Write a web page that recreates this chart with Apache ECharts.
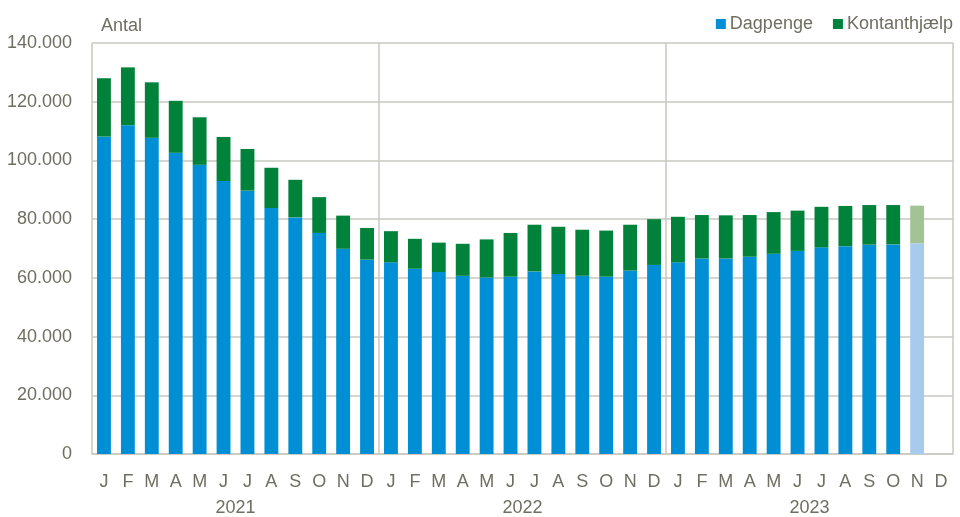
<!DOCTYPE html>
<html><head><meta charset="utf-8">
<script src="https://cdn.jsdelivr.net/npm/echarts@6/dist/echarts.min.js"></script>
<style>html,body{margin:0;padding:0;background:#fff}#c{width:960px;height:517px}</style>
</head><body><div id="c"></div>
<script>
var months = ['J','F','M','A','M','J','J','A','S','O','N','D','J','F','M','A','M','J','J','A','S','O','N','D','J','F','M','A','M','J','J','A','S','O','N','D'];
var years = ['2021','2022','2023'];
var dagpenge = [108100,112000,107700,102600,98500,93000,89700,83800,80600,75300,69900,66200,
  65300,63100,62000,60700,60100,60400,62200,61300,60700,60400,62500,64400,
  65300,66600,66600,67200,68200,69200,70400,70800,71300,71400,71800,null];
var kontanthjaelp = [19900,19700,18900,17700,16200,15000,14200,13700,12800,12200,11300,10800,
  10600,10200,10000,10900,13000,14900,15900,16100,15700,15700,15600,15600,
  15500,14800,14700,14200,14200,13700,13800,13700,13500,13400,12800,null];
var provisional = [34];

var FONT = "'Liberation Sans',Arial,sans-serif";
var FS = 18;
var TXT = '#6f6e62';
var GRIDC = '#c9c9c1';
function mk(arr, light){
  return arr.map(function(v,i){
    if (provisional.indexOf(i) >= 0) return {value:v, itemStyle:{color:light}};
    return v;
  });
}
var chart = echarts.init(document.getElementById('c'), null, {renderer:'canvas'});
chart.setOption({
  animation:false,
  textStyle:{fontFamily:FONT},
  title:{text:'Antal', left:96, top:12, textStyle:{fontFamily:FONT, fontSize:FS, fontWeight:'normal', color:TXT}},
  legend:{right:2, top:10, itemWidth:10, itemHeight:10, itemGap:20, icon:'rect',
    textStyle:{fontFamily:FONT, fontSize:FS, color:TXT, padding:[0,0,0,-1]},
    data:['Dagpenge','Kontanthjælp']},
  grid:{left:92, right:7, top:43, bottom:62},
  xAxis:[
    {type:'category', data:months, position:'bottom', boundaryGap:true,
     axisLine:{show:true, lineStyle:{color:GRIDC, width:1.5}}, axisTick:{show:false},
     axisLabel:{interval:0, margin:19, fontFamily:FONT, fontSize:FS, color:TXT},
     splitLine:{show:false}},
    {type:'category', data:years, position:'bottom', boundaryGap:true,
     axisLine:{show:false}, axisTick:{show:false},
     axisLabel:{interval:0, margin:45, fontFamily:FONT, fontSize:FS, color:TXT},
     splitLine:{show:true, interval:0, lineStyle:{color:GRIDC, width:1.5}}}
  ],
  yAxis:{type:'value', min:0, max:140000, interval:20000,
    axisLine:{show:false}, axisTick:{show:false},
    axisLabel:{margin:20, fontFamily:FONT, fontSize:FS, color:TXT,
      formatter:function(v){return v===0?'0':(v/1000)+'.000';}},
    splitLine:{lineStyle:{color:GRIDC, width:1.5}}},
  series:[
    {name:'Dagpenge', type:'bar', stack:'a', xAxisIndex:0, barWidth:'58%',
     itemStyle:{color:'#008fd5'}, data:mk(dagpenge,'#a7cbec')},
    {name:'Kontanthjælp', type:'bar', stack:'a', xAxisIndex:0, barWidth:'58%',
     itemStyle:{color:'#00823a'}, data:mk(kontanthjaelp,'#a4c395')}
  ]
});
</script></body></html>
